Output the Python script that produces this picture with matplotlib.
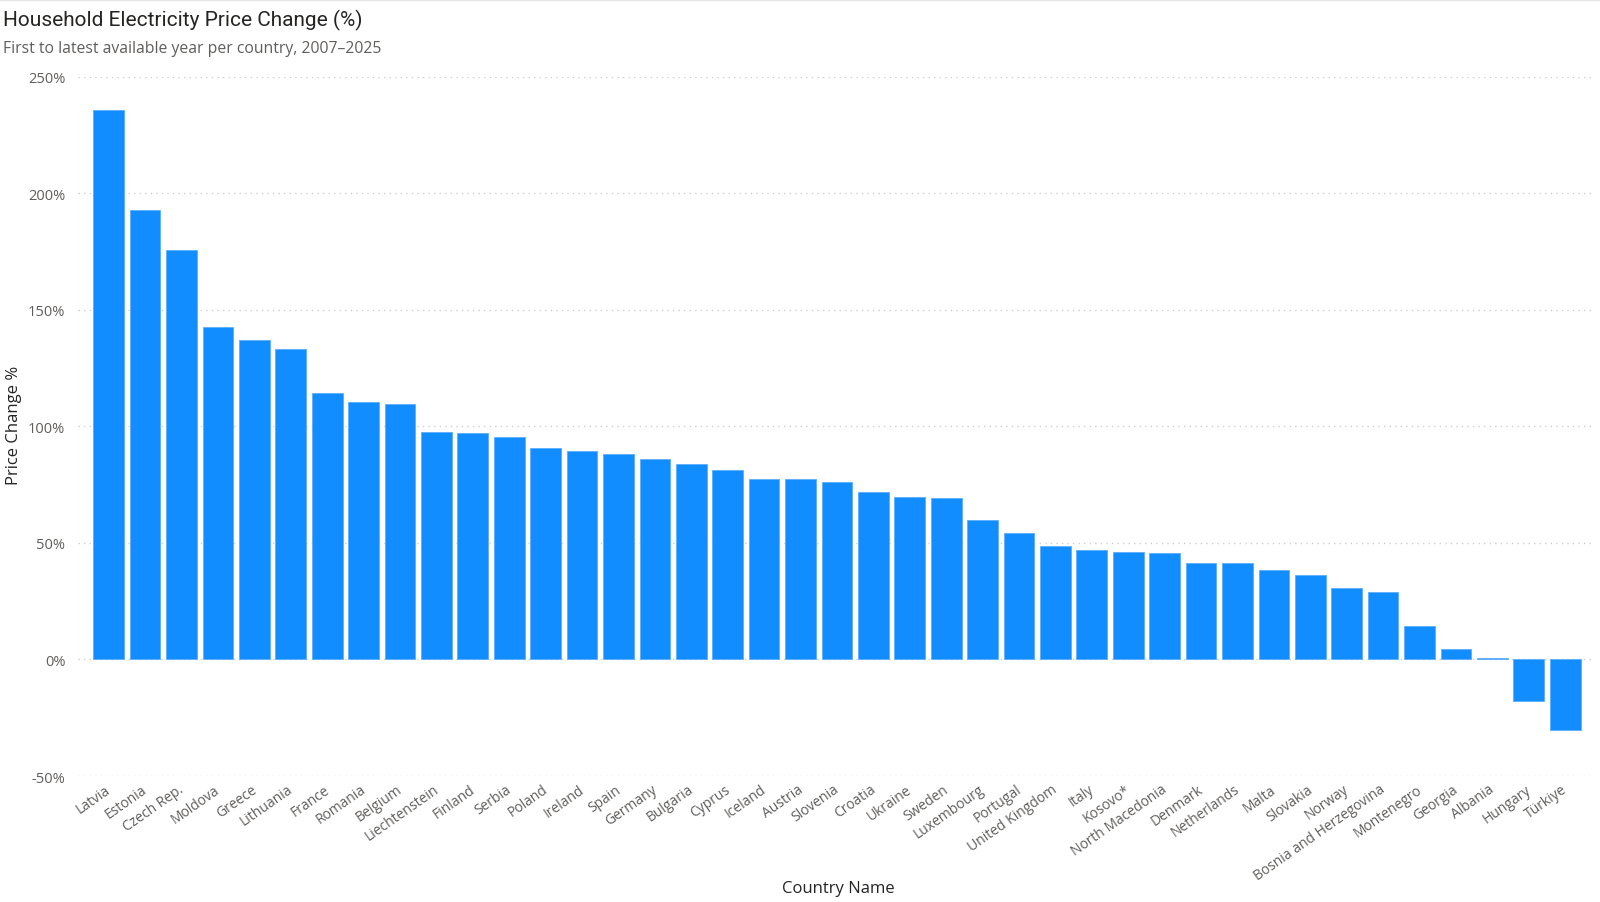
import matplotlib
matplotlib.use("Agg")
import matplotlib.pyplot as plt
from matplotlib.ticker import FuncFormatter

countries = ["Latvia", "Estonia", "Czech Rep.", "Moldova", "Greece", "Lithuania", "France",
             "Romania", "Belgium", "Liechtenstein", "Finland", "Serbia", "Poland", "Ireland",
             "Spain", "Germany", "Bulgaria", "Cyprus", "Iceland", "Austria", "Slovenia",
             "Croatia", "Ukraine", "Sweden", "Luxembourg", "Portugal", "United Kingdom",
             "Italy", "Kosovo*", "North Macedonia", "Denmark", "Netherlands", "Malta",
             "Slovakia", "Norway", "Bosnia and Herzegovina", "Montenegro", "Georgia",
             "Albania", "Hungary", "Türkiye"]
price_change = [235.6, 192.7, 175.7, 142.5, 137.2, 133.3, 114.1, 110.6, 109.7, 97.5, 97.0,
                95.3, 90.9, 89.6, 88.3, 86.1, 83.9, 81.3, 77.4, 77.4, 76.0, 71.7, 69.9, 69.1,
                59.9, 54.2, 48.5, 46.8, 46.3, 45.5, 41.5, 41.5, 38.5, 36.3, 30.6, 28.8, 14.4,
                4.4, 0.6, -17.9, -30.2]
y_ticks = [-50, 0, 50, 100, 150, 200, 250]

fig = plt.figure(figsize=(16, 9.03), dpi=100)
ax = fig.add_axes([0.0486, 0.1395, 0.9474, 0.7745])

x = list(range(len(countries)))
ax.bar(x, price_change, width=0.843, color="#118DFF", edgecolor="#5AAEFF", linewidth=0.6, zorder=3)

ax.set_ylim(-50, 250)
ax.set_xlim(-0.85, 40.78)
ax.set_yticks(y_ticks)
ax.yaxis.set_major_formatter(FuncFormatter(lambda v, p: f"{int(v)}%"))
ax.grid(axis="y", color="#CFCFCF", linestyle=(0, (1, 3)), linewidth=1, zorder=0)
for s in ax.spines.values():
    s.set_visible(False)
ax.tick_params(axis="both", length=0, labelsize=10.5, labelcolor="#605E5C")
ax.tick_params(axis="y", pad=9)
ax.tick_params(axis="x", pad=4)
ax.set_xticks([v - 0.1 for v in x])
ax.set_xticklabels(countries, rotation=35, ha="right", rotation_mode="anchor",
                   fontfamily="Open Sans", fontsize=10)
for lbl in ax.get_yticklabels():
    lbl.set_fontfamily("Open Sans")

fig.text(0.524, 0.0155, "Country Name", fontsize=12, color="#252423", fontfamily="Open Sans",
         ha="center", va="center")
fig.text(0.0085, 0.529, "Price Change %", fontsize=12, color="#252423", fontfamily="Open Sans",
         fontweight="medium", rotation=90, ha="center", va="center")

fig.text(0.002, 0.977, "Household Electricity Price Change (%)", fontsize=15, color="#252423",
         fontfamily="Roboto", va="center", ha="left")
fig.text(0.002, 0.946, "First to latest available year per country, 2007–2025", fontsize=11.3,
         color="#605E5C", fontfamily="Open Sans", va="center", ha="left")

fig.add_artist(plt.Line2D([0, 1], [0.999, 0.999], color="#E6E6E6", linewidth=1))

fig.savefig("out.png", dpi=100, facecolor="white")
